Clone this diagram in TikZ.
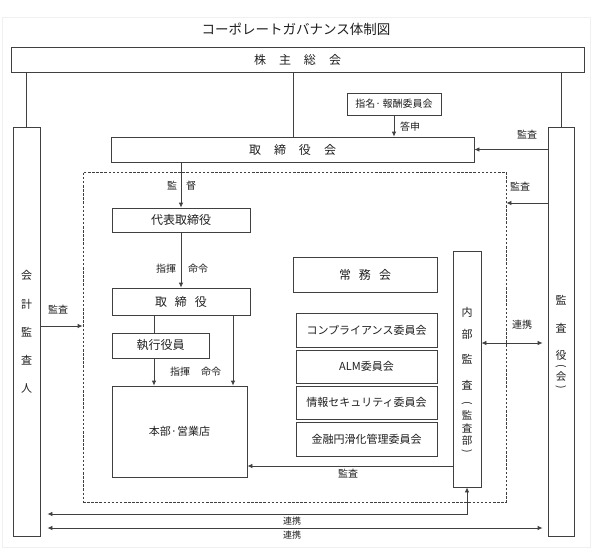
\documentclass[tikz,border=0pt]{standalone}
\usepackage{fontspec}
\setmainfont{Noto Sans CJK JP}
\usepackage{graphicx}
\usetikzlibrary{arrows.meta,calc}
\definecolor{lc}{HTML}{404040}
\definecolor{tc}{HTML}{202020}
\newcommand{\vparL}{\rotatebox[origin=c]{-90}{(}}
\newcommand{\vparR}{\rotatebox[origin=c]{-90}{)}}
\tikzset{
  box/.style={draw=lc, line width=0.8pt, inner sep=0pt, fill=white, text=tc, font=\fontsize{12}{14}\selectfont},
  cbox/.style={box, font=\fontsize{11}{13}\selectfont},
  lbl/.style={inner sep=0pt, text=tc, font=\fontsize{10}{12}\selectfont},
  slbl/.style={inner sep=0pt, text=tc, font=\fontsize{9}{11}\selectfont},
  vch/.style={inner sep=0pt, text=tc, font=\fontsize{11}{13}\selectfont},
  svch/.style={inner sep=0pt, text=tc, font=\fontsize{10.5}{12}\selectfont},
  ln/.style={draw=lc, line width=0.8pt},
  arr/.style={ln, -{Latex[length=5pt,width=4.5pt]}},
  darr/.style={ln, {Latex[length=5pt,width=4.5pt]}-{Latex[length=5pt,width=4.5pt]}},
}
\begin{document}
\begin{tikzpicture}[x=1pt,y=-1pt]
\useasboundingbox (0,0) rectangle (593,555);
\fill[white] (0,0) rectangle (593,555);
\draw[black!6, line width=0.8pt] (2,17) rectangle (590,547);

% title
\node[inner sep=0pt, text=tc, font=\fontsize{13.5}{15}\selectfont] (title) at (296,29) {コーポレートガバナンス体制図};

% dashed area
\node[draw=lc, line width=0.8pt, dash pattern=on 2.5pt off 1.6pt, inner sep=0pt,
      minimum width=423pt, minimum height=330pt] (area) at (294.5,337) {};

% main boxes
\node[box, minimum width=573pt, minimum height=25pt] (sh) at (297.5,59.5) {株\hspace{13pt}主\hspace{13pt}総\hspace{13pt}会};
\node[box, minimum width=27pt, minimum height=409pt] (aud) at (26.5,331.5) {};
\node[box, minimum width=26pt, minimum height=409pt] (ksy) at (561,331.5) {};
\node[box, minimum width=94pt, minimum height=22pt, font=\fontsize{10}{12}\selectfont] (nom) at (394,104) {指名·\,報酬委員会};
\node[box, minimum width=363pt, minimum height=25pt] (brd) at (292.5,149.5) {取\hspace{13pt}締\hspace{13pt}役\hspace{13pt}会};
\node[box, minimum width=138pt, minimum height=24pt] (rep) at (181,220) {代表取締役};
\node[box, minimum width=138pt, minimum height=27pt] (dir) at (181,301.5) {取\hspace{8pt}締\hspace{8pt}役};
\node[box, minimum width=97pt, minimum height=25pt] (exe) at (160.5,345.5) {執行役員};
\node[box, minimum width=135pt, minimum height=91pt, font=\fontsize{11}{13}\selectfont] (hq) at (179.5,431.5) {本部·営業店};
\node[box, minimum width=144pt, minimum height=35pt] (jomu) at (365,274.5) {常\hspace{8pt}務\hspace{8pt}会};
\node[cbox, minimum width=141pt, minimum height=34pt] (comp) at (366.5,330) {コンプライアンス委員会};
\node[cbox, minimum width=141pt, minimum height=33pt] (alm) at (366.5,366.5) {ALM委員会};
\node[cbox, minimum width=141pt, minimum height=33pt] (info) at (366.5,402.5) {情報セキュリティ委員会};
\node[cbox, minimum width=141pt, minimum height=34pt] (kin) at (366.5,439) {金融円滑化管理委員会};
\node[box, minimum width=28pt, minimum height=236pt] (ia) at (467,369) {};

% vertical texts: 会計監査人
\node[vch] (a1) at (26.5,275) {会};
\node[vch] (a2) at (26.5,304) {計};
\node[vch] (a3) at (26.5,332) {監};
\node[vch] (a4) at (26.5,360) {査};
\node[vch] (a5) at (26.5,388) {人};
% 監査役(会)
\node[vch] (k1) at (561,300) {監};
\node[vch] (k2) at (561,328) {査};
\node[vch] (k3) at (561,355) {役};
\node[svch] (k4) at (561,367) {\vparL};
\node[svch] (k5) at (561,377) {会};
\node[svch] (k6) at (561,388) {\vparR};
% 内部監査(監査部)
\node[vch] (i1) at (467,312) {内};
\node[vch] (i2) at (467,334) {部};
\node[vch] (i3) at (467,359) {監};
\node[vch] (i4) at (467,385) {査};
\node[svch] (i5) at (467,404) {\vparL};
\node[svch] (i6) at (467,415) {監};
\node[svch] (i7) at (467,428) {査};
\node[svch] (i8) at (467,441) {部};
\node[svch] (i9) at (467,452) {\vparR};

% coordinates for connector ends
\coordinate (kb) at (548,203);
\coordinate (ac) at (40,326);
\coordinate (ih) at (453,466);
\coordinate (x1) at (154,0);
\coordinate (x2) at (233,0);
\coordinate (yb1) at (0,514);
\coordinate (yb2) at (0,528);

% connectors
\draw[ln] (aud.north) -- (aud.north |- sh.south);
\draw[ln] (ksy.north) -- (ksy.north |- sh.south);
\draw[ln] (brd.north -| 293,0) -- (sh.south -| 293,0);
\draw[arr] (nom.south) -- (nom.south |- brd.north);
\draw[arr] (ksy.west |- brd.east) -- (brd.east);
\draw[arr] (kb) -- (kb -| area.east);
\draw[arr] (rep.north |- brd.south) -- (rep.north);
\draw[arr] (rep.south) -- (dir.north);
\draw[ln] (dir.south -| x1) -- (exe.north -| x1);
\draw[arr] (exe.south -| x1) -- (hq.north -| x1);
\draw[arr] (dir.south -| x2) -- (hq.north -| x2);
\draw[arr] (ac) -- (ac -| area.west);
\draw[arr] (ih) -- (ih -| hq.east);
\draw[darr, shorten >=5pt] (ia.east |- 0,343) -- (ksy.west |- 0,343);
\draw[darr, shorten >=7pt] (ia.south) -- (ia.south |- yb1) -- (aud.east |- yb1);
\draw[darr, shorten <=7pt, shorten >=5pt] (aud.east |- yb2) -- (ksy.west |- yb2);

% labels
\node[lbl] (l1) at (410,127) {答申};
\node[lbl] (l2) at (527,135) {監査};
\node[lbl] (l3) at (520,187) {監査};
\node[lbl] (l4) at (172,186) {監};
\node[lbl] (l5) at (191,186) {督};
\node[lbl] (l6) at (166,269) {指揮};
\node[lbl] (l7) at (198,269) {命令};
\node[lbl] (l8) at (180,372) {指揮};
\node[lbl] (l9) at (211,372) {命令};
\node[lbl] (l10) at (58,310) {監査};
\node[lbl] (l11) at (522,325) {連携};
\node[lbl] (l12) at (348,474) {監査};
\node[slbl] (l13) at (292,521) {連携};
\node[slbl] (l14) at (292,535) {連携};
\end{tikzpicture}
\end{document}
